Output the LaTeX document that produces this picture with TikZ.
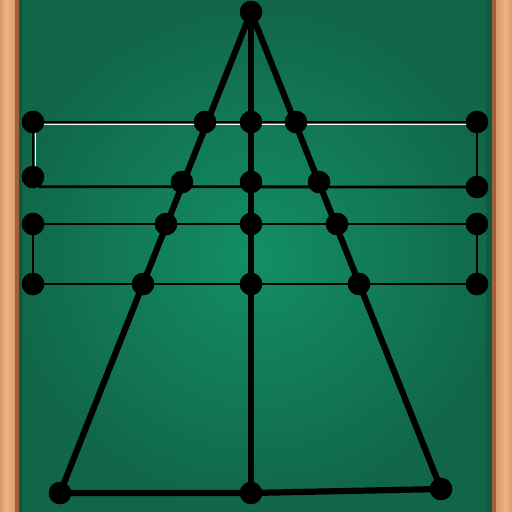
\documentclass[tikz,border=0pt]{standalone}
\usepackage{tikz}

\definecolor{boardmid}{HTML}{138F63}
\definecolor{boardedge}{HTML}{11654B}
\definecolor{boardshade}{HTML}{0E5A42}
\definecolor{woodlight}{HTML}{D99A6A}
\definecolor{woodpale}{HTML}{EBB487}
\definecolor{wooddark}{HTML}{A3603A}

\begin{document}
\begin{tikzpicture}[x=1pt,y=-1pt,
    dot/.style={circle,fill=black,minimum size=22pt,inner sep=0pt},
    chalk/.style={line width=2.8pt},
    bold/.style={line width=6.2pt},
    shine/.style={white,line width=0.8pt}]

\useasboundingbox (0,0) rectangle (512,512);

% board and frame
\shade[inner color=boardmid,outer color=boardedge] (0,0) rectangle (512,512);
\fill[boardshade] (15,0) rectangle (23,512);
\fill[boardshade] (486,0) rectangle (493,512);
\shade[left color=woodlight,right color=woodpale] (0,0) rectangle (6,512);
\shade[left color=woodpale,right color=woodlight] (6,0) rectangle (15,512);
\fill[wooddark] (15,0) rectangle (18.5,512);
\fill[wooddark] (492,0) rectangle (496,512);
\shade[left color=woodlight,right color=woodpale] (496,0) rectangle (505,512);
\shade[left color=woodpale,right color=woodlight] (505,0) rectangle (512,512);

\node[dot] (a) at (251,12) {};

\node[dot] (l1) at (33,122) {};
\node[dot] (p1) at (205,122) {};
\node[dot] (c1) at (251,122) {};
\node[dot] (q1) at (296,122) {};
\node[dot] (r1) at (477,122) {};

\node[dot] (l2) at (33,177) {};
\node[dot] (p2) at (182,182) {};
\node[dot] (c2) at (251,182) {};
\node[dot] (q2) at (319,182) {};
\node[dot] (r2) at (477,187) {};

\node[dot] (l3) at (33,224) {};
\node[dot] (p3) at (166,224) {};
\node[dot] (c3) at (251,224) {};
\node[dot] (q3) at (337,224) {};
\node[dot] (r3) at (477,224) {};

\node[dot] (l4) at (33,284) {};
\node[dot] (p4) at (143,284) {};
\node[dot] (c4) at (251,284) {};
\node[dot] (q4) at (359,284) {};
\node[dot] (r4) at (477,284) {};

\node[dot] (bl) at (60,493) {};
\node[dot] (bc) at (251,493) {};
\node[dot] (br) at (441,489) {};

% the two strips
\draw[shine] ([yshift=-2.2pt]l1.center) -- ([yshift=-2.2pt]r1.center);
\draw[shine] ([xshift=2.2pt]l1.center) -- ([xshift=2.2pt]l2.center);
\draw[chalk] (l1.center) -- (r1.center);
\draw[chalk] (l2.-60) -- (r2.center);
\draw[chalk] (l1.center) -- (l2.center);
\draw[chalk] (r1.center) -- (r2.center);

\draw[chalk] (l3.center) -- (r3.center);
\draw[chalk] (l4.center) -- (r4.center);
\draw[chalk] (l3.center) -- (l4.center);
\draw[chalk] (r3.center) -- (r4.center);

% the triangle
\draw[bold] (a.center) -- (bl.center);
\draw[bold] (a.center) -- (br.center);
\draw[bold] (a.center) -- (bc.center);
\draw[bold] (bl.center) -- (bc.center) -- (br.center);

% dots again on top
\foreach \n in {a,l1,p1,c1,q1,r1,l2,p2,c2,q2,r2,l3,p3,c3,q3,r3,l4,p4,c4,q4,r4,bl,bc,br}
  \fill (\n.center) circle (11.3pt);
\end{tikzpicture}
\end{document}
